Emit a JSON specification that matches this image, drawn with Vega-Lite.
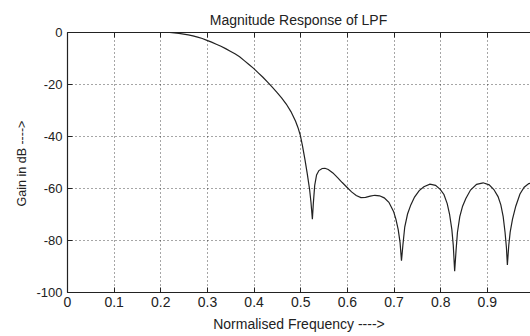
{
  "$schema": "https://vega.github.io/schema/vega-lite/v6.json",
  "width": 463,
  "height": 260,
  "autosize": {"type": "none"},
  "padding": {"left": 67, "top": 32, "right": 0, "bottom": 44},
  "background": "white",
  "title": {"text": "Magnitude Response of LPF", "fontSize": 14, "fontWeight": "normal", "font": "Liberation Sans", "color": "#222", "anchor": "middle", "baseline": "alphabetic", "offset": 11, "dy": 24},
  "config": {
    "view": {"stroke": null},
    "axis": {"labelFont": "Liberation Sans", "titleFont": "Liberation Sans", "labelColor": "#222", "titleColor": "#222", "domainColor": "#222", "tickColor": "#222", "domainWidth": 1.2, "tickWidth": 1}
  },
  "data": {"values": [
    {"f": 0.2, "db": 0}, {"f": 0.21, "db": -0.05}, {"f": 0.22, "db": -0.15}, {"f": 0.23, "db": -0.3},
    {"f": 0.24, "db": -0.5}, {"f": 0.25, "db": -0.8}, {"f": 0.26, "db": -1.1}, {"f": 0.27, "db": -1.5},
    {"f": 0.28, "db": -2.0}, {"f": 0.29, "db": -2.5}, {"f": 0.30, "db": -3.2}, {"f": 0.31, "db": -3.9},
    {"f": 0.32, "db": -4.7}, {"f": 0.33, "db": -5.5}, {"f": 0.34, "db": -6.4}, {"f": 0.35, "db": -7.4},
    {"f": 0.36, "db": -8.4}, {"f": 0.37, "db": -9.5}, {"f": 0.38, "db": -11}, {"f": 0.39, "db": -12.5},
    {"f": 0.40, "db": -14}, {"f": 0.41, "db": -15.7}, {"f": 0.42, "db": -17.4}, {"f": 0.43, "db": -19.3},
    {"f": 0.44, "db": -21.2}, {"f": 0.45, "db": -23.2}, {"f": 0.46, "db": -25.3}, {"f": 0.47, "db": -27.7},
    {"f": 0.48, "db": -30.6}, {"f": 0.49, "db": -34.3}, {"f": 0.495, "db": -36.7}, {"f": 0.50, "db": -39.6},
    {"f": 0.505, "db": -44}, {"f": 0.51, "db": -49}, {"f": 0.515, "db": -54.5}, {"f": 0.52, "db": -60.5},
    {"f": 0.523, "db": -65.5}, {"f": 0.526, "db": -72}, {"f": 0.528, "db": -66}, {"f": 0.531, "db": -59},
    {"f": 0.535, "db": -55}, {"f": 0.54, "db": -53.3}, {"f": 0.547, "db": -52.5}, {"f": 0.553, "db": -52.4},
    {"f": 0.56, "db": -52.9}, {"f": 0.57, "db": -54.2}, {"f": 0.58, "db": -56}, {"f": 0.59, "db": -57.9},
    {"f": 0.60, "db": -59.7}, {"f": 0.61, "db": -61.5}, {"f": 0.62, "db": -62.9}, {"f": 0.63, "db": -63.7},
    {"f": 0.64, "db": -63.6}, {"f": 0.65, "db": -63.1}, {"f": 0.66, "db": -62.8}, {"f": 0.67, "db": -63},
    {"f": 0.68, "db": -63.8}, {"f": 0.69, "db": -65.5}, {"f": 0.70, "db": -69}, {"f": 0.705, "db": -72},
    {"f": 0.71, "db": -76}, {"f": 0.714, "db": -81}, {"f": 0.717, "db": -88}, {"f": 0.72, "db": -82},
    {"f": 0.724, "db": -75}, {"f": 0.73, "db": -70}, {"f": 0.737, "db": -66.5}, {"f": 0.745, "db": -63.5},
    {"f": 0.755, "db": -61}, {"f": 0.765, "db": -59.5}, {"f": 0.778, "db": -58.5}, {"f": 0.79, "db": -59},
    {"f": 0.80, "db": -60.5}, {"f": 0.808, "db": -62.5}, {"f": 0.815, "db": -66}, {"f": 0.82, "db": -70},
    {"f": 0.825, "db": -76}, {"f": 0.828, "db": -82}, {"f": 0.831, "db": -92}, {"f": 0.834, "db": -84},
    {"f": 0.837, "db": -77}, {"f": 0.842, "db": -71}, {"f": 0.848, "db": -67}, {"f": 0.855, "db": -64},
    {"f": 0.865, "db": -60.8}, {"f": 0.878, "db": -58.6}, {"f": 0.892, "db": -58}, {"f": 0.905, "db": -58.8},
    {"f": 0.915, "db": -60.6}, {"f": 0.924, "db": -63.3}, {"f": 0.93, "db": -66.5}, {"f": 0.935, "db": -71},
    {"f": 0.939, "db": -77}, {"f": 0.942, "db": -83}, {"f": 0.944, "db": -89.6}, {"f": 0.947, "db": -82},
    {"f": 0.95, "db": -77}, {"f": 0.955, "db": -72}, {"f": 0.962, "db": -67}, {"f": 0.971, "db": -62.3},
    {"f": 0.98, "db": -59.7}, {"f": 0.99, "db": -58.3}, {"f": 1.0, "db": -57.8}
  ]},
  "layer": [
    {
      "mark": {"type": "line", "color": "#222", "strokeWidth": 1.2, "clip": true},
      "encoding": {
        "x": {
          "field": "f", "type": "quantitative",
          "scale": {"domain": [0, 0.9925], "nice": false, "zero": false},
          "axis": {
            "orient": "bottom", "values": [0, 0.1, 0.2, 0.3, 0.4, 0.5, 0.6, 0.7, 0.8, 0.9],
            "labelExpr": "datum.value == 0 ? '0' : format(datum.value, '.1f')",
            "grid": true, "gridDash": [1, 3], "gridColor": "#000", "gridOpacity": 0.7, "gridWidth": 1,
            "tickSize": -5, "labelPadding": 8, "labelFontSize": 14, "labelFlush": false,
            "labelBaseline": "top", "labelOverlap": false,
            "title": "Normalised Frequency ---->", "titleFontSize": 14, "titleFontWeight": "normal",
            "titleBaseline": "alphabetic", "titleY": 36
          }
        },
        "y": {
          "field": "db", "type": "quantitative",
          "scale": {"domain": [-100, 0], "nice": false},
          "axis": {
            "orient": "left", "values": [-100, -80, -60, -40, -20, 0],
            "labelExpr": "'' + datum.value",
            "grid": true, "gridDash": [1, 3], "gridColor": "#000", "gridOpacity": 0.7, "gridWidth": 1,
            "tickSize": -5, "labelPadding": 10, "labelFontSize": 13, "labelFlush": false, "labelOverlap": false,
            "title": "Gain in dB ---->", "titleFontSize": 12.5, "titleFontWeight": "normal",
            "titleBaseline": "alphabetic", "titleX": -42, "titleY": 131, "titleAngle": -90, "titleAlign": "center"
          }
        }
      }
    },
    {
      "mark": {"type": "rule", "opacity": 0},
      "encoding": {
        "x": {
          "datum": 0, "type": "quantitative",
          "axis": {
            "orient": "top", "values": [0.1, 0.2, 0.3, 0.4, 0.5, 0.6, 0.7, 0.8, 0.9],
            "labels": false, "grid": false, "tickSize": -5, "title": null
          }
        }
      }
    }
  ],
  "resolve": {"axis": {"x": "independent"}}
}
